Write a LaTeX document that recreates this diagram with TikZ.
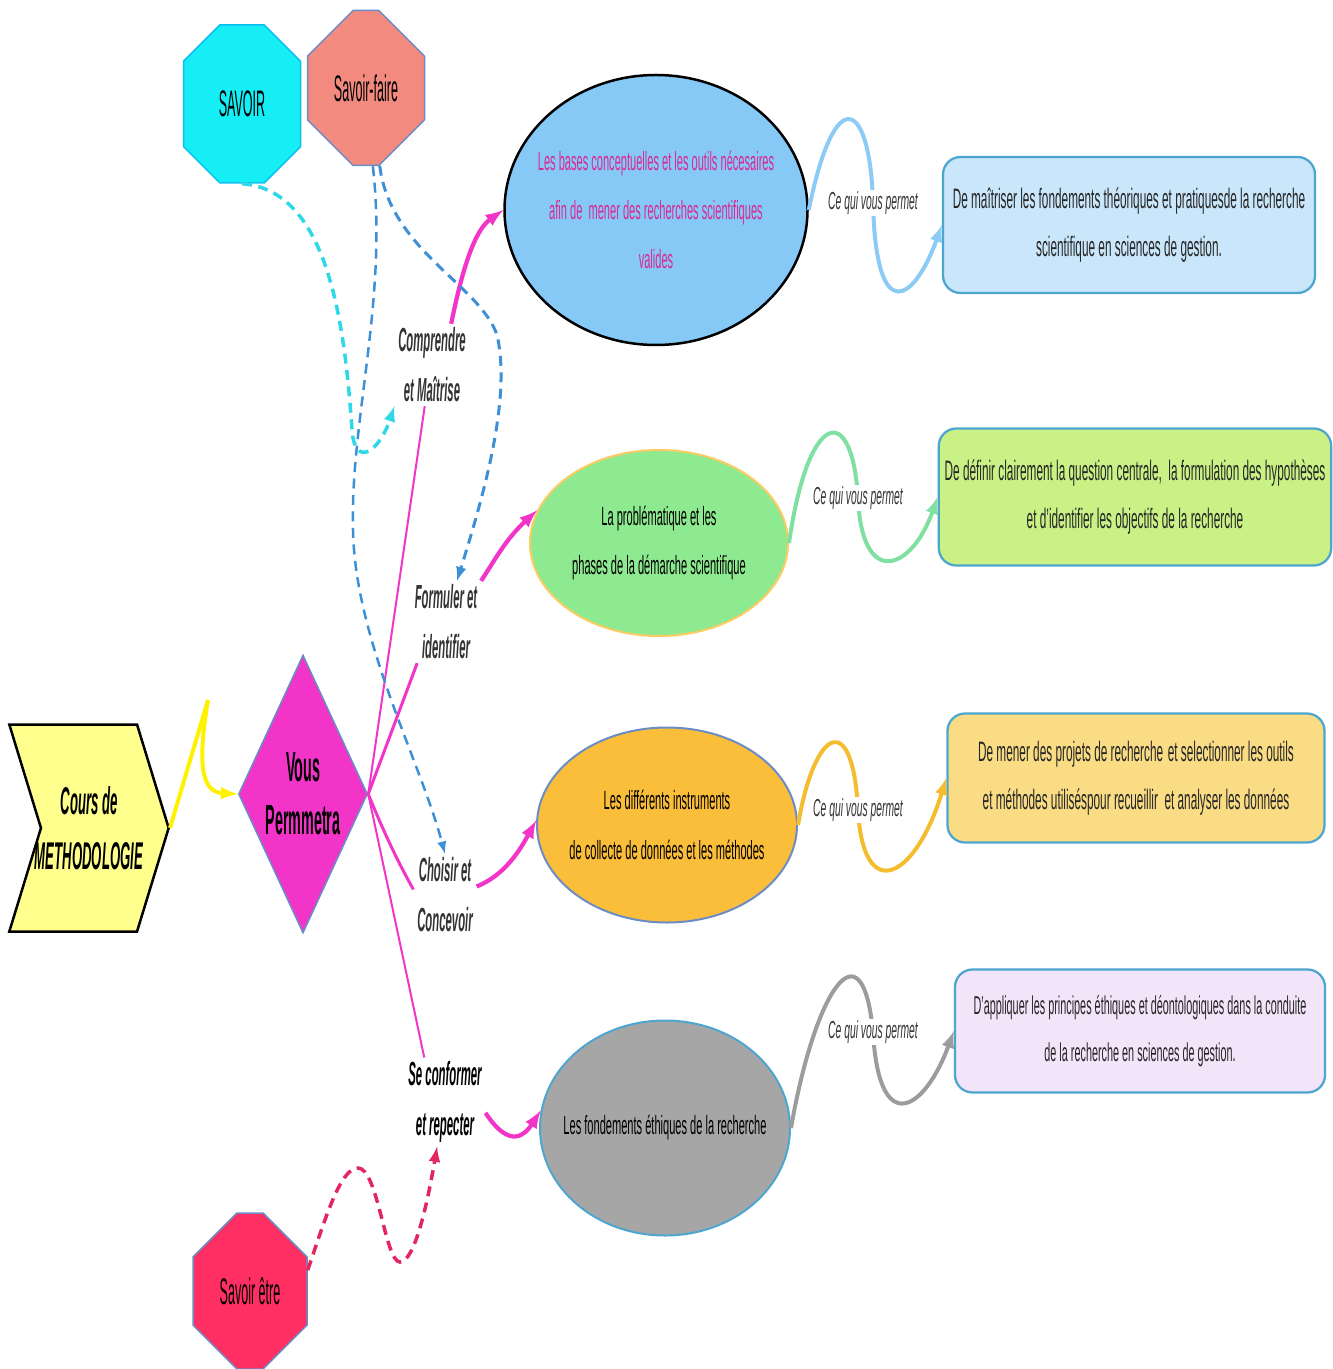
\documentclass[tikz,border=0pt]{standalone}
\usepackage{fontspec}
\setmainfont{Liberation Sans}[FakeStretch=0.42]
\newfontfamily\tightfont{Liberation Sans}[FakeStretch=0.34]
\usepackage{xcolor}
\usepackage{tikz}
\usetikzlibrary{shapes.geometric,shapes.misc,shapes.symbols}

\definecolor{savcyan}{HTML}{14EEF4}
\definecolor{savsalmon}{HTML}{F28A80}
\definecolor{savrouge}{HTML}{FF2E63}
\definecolor{octoline}{HTML}{6C8CC4}
\definecolor{rose}{HTML}{F235C8}
\definecolor{jaune}{HTML}{FFFF8E}
\definecolor{bleuE}{HTML}{86C9F7}
\definecolor{vertE}{HTML}{8EEA90}
\definecolor{orangeE}{HTML}{FBBE3B}
\definecolor{grisE}{HTML}{A6A6A6}
\definecolor{texteE}{HTML}{D82A94}
\definecolor{boxline}{HTML}{4DA6D0}
\definecolor{bleuB}{HTML}{C9E6FA}
\definecolor{vertB}{HTML}{C9F185}
\definecolor{jauneB}{HTML}{F9DC84}
\definecolor{lilasB}{HTML}{F2E5FA}
\definecolor{tiretcyan}{HTML}{2FD8E6}
\definecolor{tiretbleu}{HTML}{3D8FD6}
\definecolor{tiretrouge}{HTML}{E2265F}
\definecolor{vagueB}{HTML}{8CCBF4}
\definecolor{vagueV}{HTML}{80E0A2}
\definecolor{vagueO}{HTML}{F4BD2F}
\definecolor{vagueG}{HTML}{9C9C9C}

\begin{document}
\begin{tikzpicture}[
    x                   = 0.2mm,
    y                   = -0.2mm,
    every node/.style   = {align=center},
    octo/.style         = {chamfered rectangle, line width=0.3mm, inner sep=0pt,
                           font=\tightfont\fontsize{21}{24}\selectfont},
    bulle/.style        = {ellipse, line width=0.4mm, inner xsep=-5mm, inner ysep=-4mm,
                           font=\fontsize{15}{28}\selectfont},
    cadre/.style        = {rectangle, rounded corners=3.5mm, draw=boxline, line width=0.45mm,
                           font=\fontsize{16}{27}\selectfont, text=black!85},
    verbe/.style        = {font=\tightfont\bfseries\itshape\fontsize{19}{28.5}\selectfont,
                           text=black!80, inner sep=2pt},
    ceqvp/.style        = {font=\itshape\fontsize{14}{16}\selectfont, text=black!80,
                           fill=white, inner sep=1pt},
    fleche/.style       = {draw=rose, line width=0.85mm, -latex},
    trait/.style        = {draw=rose, line width=0.4mm},
    vague/.style        = {line width=0.8mm, -latex},
    pointille/.style    = {dash pattern=on 2mm off 1.3mm, line width=0.7mm, -latex}
  ]
\useasboundingbox (0,0) rectangle (1333,1369);

% savoirs
\node[octo, fill=savcyan, draw=savcyan!80!blue, minimum width=23.4mm, minimum height=31.6mm,
      chamfered rectangle xsep=4mm, chamfered rectangle ysep=9mm] (sav) at (242,104) {SAVOIR};
\node[octo, fill=savsalmon, draw=octoline, minimum width=23.4mm, minimum height=31mm,
      chamfered rectangle xsep=3.4mm, chamfered rectangle ysep=8.4mm] (sf) at (366,88) {Savoir-faire};
\node[octo, fill=savrouge, draw=octoline, minimum width=22.8mm, minimum height=31.2mm,
      chamfered rectangle xsep=6mm, chamfered rectangle ysep=9.4mm] (se) at (250,1291) {Savoir être};

% cours et losange
\node[signal, signal from=west, signal to=east, signal pointer angle=146, fill=jaune, draw=black,
      line width=0.5mm, minimum width=20mm, minimum height=41.4mm, inner xsep=-1.2mm, inner ysep=0pt,
      font=\tightfont\bfseries\itshape\fontsize{22}{31}\selectfont] (cours) at (89,828) {Cours de\\METHODOLOGIE};
\node[diamond, fill=rose, draw=octoline, line width=0.3mm, minimum width=25.8mm, minimum height=55.6mm,
      inner xsep=-4mm, inner ysep=0pt, font=\tightfont\bfseries\fontsize{24}{30}\selectfont] (vous) at (303,794) {Vous\\Permmetra};

% contenus
\node[bulle, fill=bleuE, draw=black, line width=0.5mm, minimum width=60.6mm, minimum height=54mm,
      text=texteE] (e1) at (656,210)
      {Les bases conceptuelles et les outils nécesaires\\afin de\ \ mener des recherches scientifiques\\valides};
\node[bulle, fill=vertE, draw=orangeE!80, minimum width=51.6mm, minimum height=37.2mm] (e2) at (659,543)
      {La problématique et les\\phases de la démarche scientifique};
\node[bulle, fill=orangeE, draw=octoline, minimum width=52mm, minimum height=39mm] (e3) at (667,825)
      {Les différents instruments\\de collecte de données et les méthodes};
\node[bulle, fill=grisE, draw=boxline, minimum width=50mm, minimum height=43mm] (e4) at (665,1128)
      {Les fondements éthiques de la recherche};

% objectifs
\node[cadre, fill=bleuB, minimum width=74.4mm, minimum height=27.2mm] (b1) at (1129,225)
      {De maîtriser les fondements théoriques et pratiquesde la recherche\\scientifique en sciences de gestion.};
\node[cadre, fill=vertB, minimum width=77mm, minimum height=27.4mm] (b2) at (1135,497)
      {De définir clairement la question centrale,\ \ la formulation des\ hypothèses\\et d'identifier les objectifs de la recherche};
\node[cadre, fill=jauneB, minimum width=75.4mm, minimum height=25.8mm] (b3) at (1136,778)
      {De mener des projets de recherche\,et selectionner les outils\\et méthodes utiliséspour recueillir\ \ et analyser les données};
\node[cadre, fill=lilasB, minimum width=74mm, minimum height=24.6mm, font=\fontsize{14.7}{27}\selectfont] (b4) at (1140,1031)
      {D'appliquer les principes éthiques et déontologiques dans la conduite\\de la recherche en sciences de gestion.};

% verbes
\node[verbe] (comp) at (432,365) {Comprendre\\et Maîtrise};
\node[verbe] (form) at (446,622) {Formuler et\\identifier};
\node[verbe] (chois) at (445,895) {Choisir et\\Concevoir};
\node[verbe, text=black] (conf) at (445,1102) {Se conformer\\et repecter};

% liens
\draw[yellow, line width=0.8mm, -latex] (cours.east) -- (208,700) .. controls (198,760) and (200,792) .. (vous.west);
\draw[trait] (vous.east) -- (comp.-100);
\draw[trait, line width=0.6mm] (vous.east) -- (form.-125);
\draw[trait, line width=0.6mm] (vous.east) .. controls (385,835) and (398,862) .. (chois.170);
\draw[trait] (vous.east) -- (conf.115);
\draw[fleche] (comp.65) .. controls (465,255) and (478,228) .. (e1.west);
\draw[fleche] (form.north east) .. controls (495,560) and (505,540) .. (e2.165);
\draw[fleche] (chois.15) .. controls (505,875) and (520,850) .. (e3.178);
\draw[fleche] (conf.-15) .. controls (510,1150) and (525,1135) .. (e4.172);

\draw[pointille, draw=tiretcyan] (sav.south) .. controls (330,190) and (345,330) .. (352,430)
      .. controls (355,470) and (380,450) .. (comp.south west);
\draw[pointille, draw=tiretbleu, line width=0.6mm] (sf.-80) .. controls (390,250) and (480,285) .. (497,335)
      .. controls (512,400) and (482,500) .. (form.75);
\draw[pointille, draw=tiretbleu, line width=0.5mm] (sf.-85) .. controls (388,300) and (350,420) .. (353,530)
      .. controls (355,640) and (420,760) .. (chois.north);
\draw[pointille, draw=tiretrouge] (se.20) .. controls (325,1220) and (340,1168) .. (358,1168)
      .. controls (378,1168) and (385,1262) .. (400,1262) .. controls (415,1262) and (428,1200) .. (conf.-100);

% ce qui vous permet
\coordinate (m1) at (873,203);
\coordinate (m2) at (858,498);
\coordinate (m3) at (858,810);
\coordinate (m4) at (873,1032);
\draw[vague, draw=vagueB] (e1.east) .. controls (835,80) and (870,100) .. (m1) .. controls (876,330) and (915,300) .. (b1.west);
\draw[vague, draw=vagueV] (e2.east) .. controls (808,410) and (852,400) .. (m2) .. controls (862,590) and (912,570) .. (b2.west);
\draw[vague, draw=vagueO] (e3.east) .. controls (815,725) and (853,710) .. (m3) .. controls (863,905) and (915,880) .. (b3.west);
\draw[vague, draw=vagueG] (e4.east) .. controls (815,990) and (862,920) .. (m4) .. controls (879,1140) and (925,1110) .. (b4.west);
\node[ceqvp] (q1) at (m1) {Ce qui vous permet};
\node[ceqvp] (q2) at (m2) {Ce qui vous permet};
\node[ceqvp] (q3) at (m3) {Ce qui vous permet};
\node[ceqvp] (q4) at (m4) {Ce qui vous permet};

\end{tikzpicture}
\end{document}
